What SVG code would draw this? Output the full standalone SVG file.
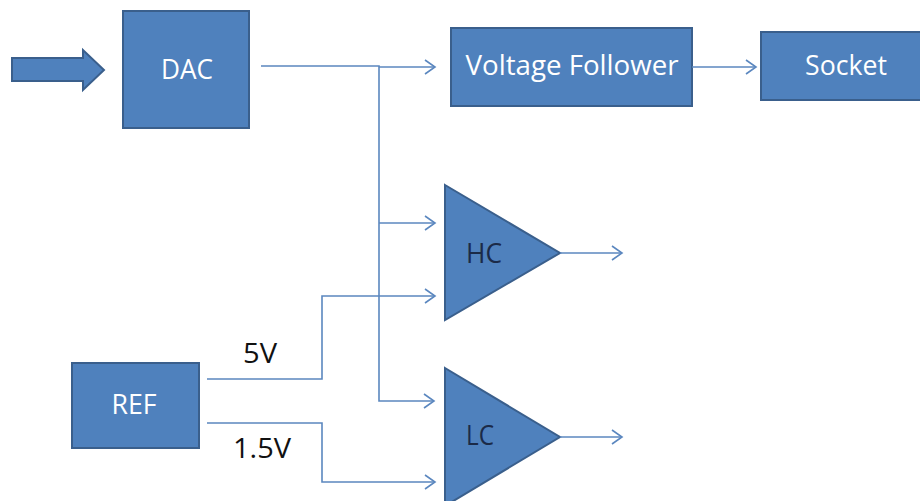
<svg xmlns="http://www.w3.org/2000/svg" width="920" height="501" viewBox="0 0 920 501">
<style>
.box{fill:#4F81BD;stroke:#3A5F8C;stroke-width:2}
.wt{font-family:"Open Sans","Liberation Sans",sans-serif;fill:#FFFFFF;font-size:27px;text-anchor:middle}
.dk{font-family:"Open Sans","Liberation Sans",sans-serif;font-size:27px;text-anchor:middle}
.ln{fill:none;stroke:#5B87BF;stroke-width:1.6}
.arr{marker-end:url(#ah)}
</style>
<defs>
<marker id="ah" markerUnits="userSpaceOnUse" markerWidth="14" markerHeight="16" viewBox="0 0 14 16" refX="12" refY="8" orient="auto">
<path d="M2,1 L12,8 L2,15" fill="none" stroke="#5B87BF" stroke-width="1.6"/>
</marker>
</defs>
<rect width="920" height="501" fill="#FFFFFF"/>
<g id="input-arrow">
<polygon class="box" points="12,58 83,58 83,50 104,70 83,90 83,81 12,81"/>
</g>
<g id="dac">
<rect class="box" x="123" y="11" width="126" height="117"/>
<text class="wt" x="187" y="79" textLength="52" lengthAdjust="spacingAndGlyphs">DAC</text>
</g>
<g id="voltage-follower">
<rect class="box" x="451" y="28" width="241" height="78"/>
<text class="wt" x="572" y="75" textLength="213" lengthAdjust="spacingAndGlyphs">Voltage Follower</text>
</g>
<g id="socket">
<rect class="box" x="761" y="32" width="170" height="68"/>
<text class="wt" x="846" y="75" textLength="82" lengthAdjust="spacingAndGlyphs">Socket</text>
</g>
<g id="ref">
<rect class="box" x="72" y="363" width="127" height="85"/>
<text class="wt" x="134" y="414" textLength="45" lengthAdjust="spacingAndGlyphs">REF</text>
</g>
<g id="hc">
<polygon class="box" points="445,185 560,253 445,320"/>
<text class="dk" x="484" y="263" fill="#1B2A47" font-size="25" textLength="36" lengthAdjust="spacingAndGlyphs">HC</text>
</g>
<g id="lc">
<polygon class="box" points="445,368 560,437 445,506"/>
<text class="dk" x="480" y="445" fill="#1B2A47" font-size="25" textLength="28" lengthAdjust="spacingAndGlyphs">LC</text>
</g>
<g id="connectors">
<polyline class="ln" points="261,66 379,66 379,401 434,401" marker-end="url(#ah)"/>
<line class="ln arr" x1="379" y1="67" x2="435" y2="67"/>
<line class="ln arr" x1="379" y1="223" x2="435" y2="223"/>
<line class="ln arr" x1="692" y1="67" x2="756" y2="67"/>
<polyline class="ln arr" points="207,379 322,379 322,296 435,296"/>
<polyline class="ln arr" points="207,423 322,423 322,482 435,482"/>
<line class="ln arr" x1="560" y1="253" x2="622" y2="253"/>
<line class="ln arr" x1="560" y1="437" x2="622" y2="437"/>
</g>
<g id="labels">
<text class="dk" x="260" y="363" fill="#111111" textLength="34" lengthAdjust="spacingAndGlyphs">5V</text>
<text class="dk" x="262" y="458" fill="#111111" textLength="58" lengthAdjust="spacingAndGlyphs">1.5V</text>
</g>
</svg>
